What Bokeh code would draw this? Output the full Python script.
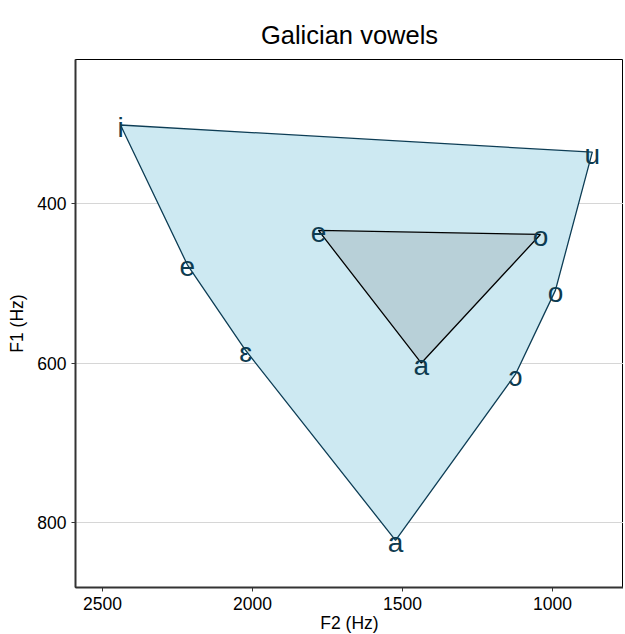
from bokeh.plotting import figure
from bokeh.models import ColumnDataSource, Range1d, FixedTicker
from bokeh.core.properties import value
from bokeh.embed import file_html
from bokeh.resources import INLINE

# Outer vowel polygon (Galician 7-vowel system)
outer_vowels = ["i", "e", "ɛ", "a", "ɔ", "o", "u"]
outer_f2 = [2440, 2217, 2023, 1523, 1123, 990, 867]
outer_f1 = [302, 477, 584, 822, 614, 509, 336]

# Inner (unstressed / reduced) triangle
inner_vowels = ["e", "a", "o"]
inner_f2 = [1780, 1437, 1040]
inner_f1 = [434, 600, 439]

x_ticks = [2500, 2000, 1500, 1000]
y_ticks = [400, 600, 800]

FONT = "Liberation Sans"
TEXT_COL = "#0d3b50"

p = figure(frame_width=548, frame_height=528,
           min_border_left=75, min_border_top=59, min_border_right=0,
           min_border_bottom=30,
           x_range=Range1d(2590, 763), y_range=Range1d(881, 220),
           output_backend="svg", toolbar_location=None,
           title="Galician vowels")

p.title.text_font = FONT
p.title.text_font_size = "25.5px"
p.title.text_font_style = "normal"
p.title.align = "center"
p.title.text_color = "#000000"
p.title.standoff = 22

p.patch(outer_f2, outer_f1, fill_color="#cde9f2", line_color="#0d3d55", line_width=1.3)
p.patch(inner_f2, inner_f1, fill_color="#b8d0d8", line_color="#000000", line_width=1.3)

src_o = ColumnDataSource(dict(x=outer_f2, y=outer_f1, t=outer_vowels))
src_i = ColumnDataSource(dict(x=inner_f2, y=inner_f1, t=inner_vowels))
for s in (src_o, src_i):
    p.text(x="x", y="y", text="t", source=s, text_font=value(FONT),
           text_font_size="28px", text_color=TEXT_COL,
           text_align="center", text_baseline="middle", y_offset=2)

p.xgrid.grid_line_color = None
p.ygrid.grid_line_color = "#d6d6d6"
p.ygrid.grid_line_width = 1.2

p.xaxis.ticker = FixedTicker(ticks=x_ticks)
p.yaxis.ticker = FixedTicker(ticks=y_ticks)
p.xaxis.axis_label = "F2 (Hz)"
p.yaxis.axis_label = "F1 (Hz)"
for ax in (p.xaxis, p.yaxis):
    ax.axis_label_text_font = FONT
    ax.axis_label_text_font_size = "17.5px"
    ax.axis_label_text_font_style = "normal"
    ax.axis_label_text_color = "#000000"
    ax.major_label_text_font = FONT
    ax.major_label_text_font_size = "17.5px"
    ax.major_label_text_color = "#000000"
    ax.axis_line_color = "#333333"
    ax.axis_line_width = 2
    ax.major_tick_line_color = "#333333"
    ax.major_tick_out = 4
    ax.major_tick_in = 0
    ax.minor_tick_line_color = None
p.xaxis.major_label_standoff = 5
p.xaxis.axis_label_standoff = 0
p.yaxis.major_label_standoff = 5
p.yaxis.axis_label_standoff = 7
p.yaxis.major_label_orientation = "horizontal"

p.outline_line_color = "#000000"
p.outline_line_width = 1

open("out.html", "w").write(file_html(p, INLINE))
